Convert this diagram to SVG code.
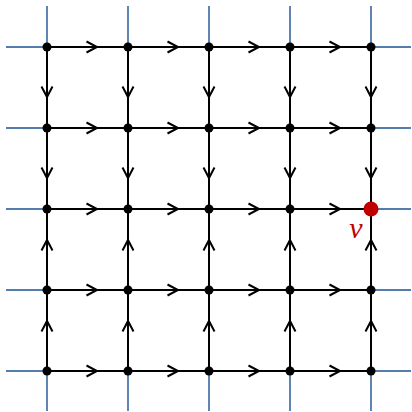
<svg xmlns="http://www.w3.org/2000/svg" xmlns:xlink="http://www.w3.org/1999/xlink" width="412" height="412" viewBox="0 0 412 412">
<style>
.b{stroke:#1a5290;stroke-width:1.4;fill:none}
.e{stroke:#000;stroke-width:2;fill:none}
.n{fill:#000}
.lab{font-family:"Liberation Serif",serif;font-style:italic;font-size:30px;fill:#c00000}
</style>
<defs>
<path id="ch" d="M-10.5,-5.5 L0,0 L-10.5,5.5" stroke="#000" stroke-width="2" fill="none" stroke-linejoin="miter"/>
</defs>
<g id="boundary">
<line class="b" x1="6" y1="47" x2="47" y2="47"/><line class="b" x1="6" y1="128" x2="47" y2="128"/><line class="b" x1="6" y1="209" x2="47" y2="209"/><line class="b" x1="6" y1="290" x2="47" y2="290"/><line class="b" x1="6" y1="371" x2="47" y2="371"/>
<line class="b" x1="371" y1="47" x2="411" y2="47"/><line class="b" x1="371" y1="128" x2="411" y2="128"/><line class="b" x1="371" y1="209" x2="411" y2="209"/><line class="b" x1="371" y1="290" x2="411" y2="290"/><line class="b" x1="371" y1="371" x2="411" y2="371"/>
<line class="b" x1="47" y1="6" x2="47" y2="47"/><line class="b" x1="128" y1="6" x2="128" y2="47"/><line class="b" x1="209" y1="6" x2="209" y2="47"/><line class="b" x1="290" y1="6" x2="290" y2="47"/><line class="b" x1="371" y1="6" x2="371" y2="47"/>
<line class="b" x1="47" y1="371" x2="47" y2="411"/><line class="b" x1="128" y1="371" x2="128" y2="411"/><line class="b" x1="209" y1="371" x2="209" y2="411"/><line class="b" x1="290" y1="371" x2="290" y2="411"/><line class="b" x1="371" y1="371" x2="371" y2="411"/>
</g>
<g id="connectors">
<line class="e" x1="47" y1="47" x2="371" y2="47"/><line class="e" x1="47" y1="128" x2="371" y2="128"/><line class="e" x1="47" y1="209" x2="371" y2="209"/><line class="e" x1="47" y1="290" x2="371" y2="290"/><line class="e" x1="47" y1="371" x2="371" y2="371"/>
<line class="e" x1="47" y1="47" x2="47" y2="371"/><line class="e" x1="128" y1="47" x2="128" y2="371"/><line class="e" x1="209" y1="47" x2="209" y2="371"/><line class="e" x1="290" y1="47" x2="290" y2="371"/><line class="e" x1="371" y1="47" x2="371" y2="371"/>
<g id="harrows">
<use xlink:href="#ch" transform="translate(97,47)"/><use xlink:href="#ch" transform="translate(178,47)"/><use xlink:href="#ch" transform="translate(259,47)"/><use xlink:href="#ch" transform="translate(340,47)"/>
<use xlink:href="#ch" transform="translate(97,128)"/><use xlink:href="#ch" transform="translate(178,128)"/><use xlink:href="#ch" transform="translate(259,128)"/><use xlink:href="#ch" transform="translate(340,128)"/>
<use xlink:href="#ch" transform="translate(97,209)"/><use xlink:href="#ch" transform="translate(178,209)"/><use xlink:href="#ch" transform="translate(259,209)"/><use xlink:href="#ch" transform="translate(340,209)"/>
<use xlink:href="#ch" transform="translate(97,290)"/><use xlink:href="#ch" transform="translate(178,290)"/><use xlink:href="#ch" transform="translate(259,290)"/><use xlink:href="#ch" transform="translate(340,290)"/>
<use xlink:href="#ch" transform="translate(97,371)"/><use xlink:href="#ch" transform="translate(178,371)"/><use xlink:href="#ch" transform="translate(259,371)"/><use xlink:href="#ch" transform="translate(340,371)"/>
</g>
<g id="varrows">
<use xlink:href="#ch" transform="translate(47,97) rotate(90)"/><use xlink:href="#ch" transform="translate(128,97) rotate(90)"/><use xlink:href="#ch" transform="translate(209,97) rotate(90)"/><use xlink:href="#ch" transform="translate(290,97) rotate(90)"/><use xlink:href="#ch" transform="translate(371,97) rotate(90)"/>
<use xlink:href="#ch" transform="translate(47,178) rotate(90)"/><use xlink:href="#ch" transform="translate(128,178) rotate(90)"/><use xlink:href="#ch" transform="translate(209,178) rotate(90)"/><use xlink:href="#ch" transform="translate(290,178) rotate(90)"/><use xlink:href="#ch" transform="translate(371,178) rotate(90)"/>
<use xlink:href="#ch" transform="translate(47,240) rotate(-90)"/><use xlink:href="#ch" transform="translate(128,240) rotate(-90)"/><use xlink:href="#ch" transform="translate(209,240) rotate(-90)"/><use xlink:href="#ch" transform="translate(290,240) rotate(-90)"/><use xlink:href="#ch" transform="translate(371,240) rotate(-90)"/>
<use xlink:href="#ch" transform="translate(47,321) rotate(-90)"/><use xlink:href="#ch" transform="translate(128,321) rotate(-90)"/><use xlink:href="#ch" transform="translate(209,321) rotate(-90)"/><use xlink:href="#ch" transform="translate(290,321) rotate(-90)"/><use xlink:href="#ch" transform="translate(371,321) rotate(-90)"/>
</g>
</g>
<g id="n-r0"><circle class="n" cx="47" cy="47" r="4.5"/><circle class="n" cx="128" cy="47" r="4.5"/><circle class="n" cx="209" cy="47" r="4.5"/><circle class="n" cx="290" cy="47" r="4.5"/><circle class="n" cx="371" cy="47" r="4.5"/></g>
<g id="n-r1"><circle class="n" cx="47" cy="128" r="4.5"/><circle class="n" cx="128" cy="128" r="4.5"/><circle class="n" cx="209" cy="128" r="4.5"/><circle class="n" cx="290" cy="128" r="4.5"/><circle class="n" cx="371" cy="128" r="4.5"/></g>
<g id="n-r2"><circle class="n" cx="47" cy="209" r="4.5"/><circle class="n" cx="128" cy="209" r="4.5"/><circle class="n" cx="209" cy="209" r="4.5"/><circle class="n" cx="290" cy="209" r="4.5"/></g>
<g id="n-r3"><circle class="n" cx="47" cy="290" r="4.5"/><circle class="n" cx="128" cy="290" r="4.5"/><circle class="n" cx="209" cy="290" r="4.5"/><circle class="n" cx="290" cy="290" r="4.5"/><circle class="n" cx="371" cy="290" r="4.5"/></g>
<g id="n-r4"><circle class="n" cx="47" cy="371" r="4.5"/><circle class="n" cx="128" cy="371" r="4.5"/><circle class="n" cx="209" cy="371" r="4.5"/><circle class="n" cx="290" cy="371" r="4.5"/><circle class="n" cx="371" cy="371" r="4.5"/></g>
<g id="v"><circle cx="371" cy="209" r="7.5" fill="#c00000"/><text class="lab" x="356" y="238" text-anchor="middle">v</text></g>
</svg>
